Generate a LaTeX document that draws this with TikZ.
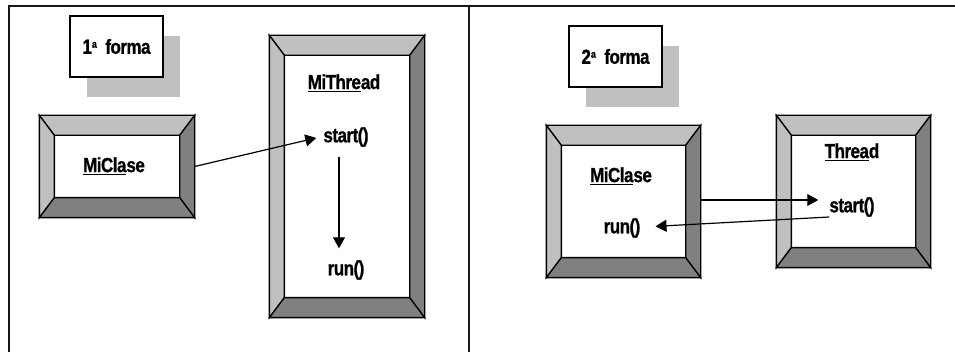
\documentclass[tikz,border=0pt]{standalone}
\usepackage{fontspec}
\setmainfont{Liberation Sans}
\newfontfamily\lblfont[FakeBold=1,LetterSpace=-3]{Liberation Sans Bold}
\usetikzlibrary{arrows.meta,shadows}
\definecolor{lite}{HTML}{C0C0C0}
\definecolor{dark}{HTML}{808080}
\newcommand\tx[1]{\scalebox{1}[1.2]{#1}}
\newcommand\supa{\raisebox{5pt}{\fontsize{9}{9}\selectfont a}}
\newcommand\bevelfill[1]{%
 \path (#1.north west) coordinate (o1) (#1.north east) coordinate (o2)
       (#1.south east) coordinate (o3) (#1.south west) coordinate (o4)
       ([xshift=15pt,yshift=-20pt]#1.north west) coordinate (i1)
       ([xshift=-15pt,yshift=-20pt]#1.north east) coordinate (i2)
       ([xshift=-15pt,yshift=20pt]#1.south east) coordinate (i3)
       ([xshift=15pt,yshift=20pt]#1.south west) coordinate (i4);
 \filldraw[bev,fill=lite] (o1)--(o2)--(i2)--(i1)--cycle;
 \filldraw[bev,fill=lite] (o1)--(i1)--(i4)--(o4)--cycle;
 \filldraw[bev,fill=dark] (o2)--(o3)--(i3)--(i2)--cycle;
 \filldraw[bev,fill=dark] (o4)--(o3)--(i3)--(i4)--cycle;
 \draw[bev] (o1) rectangle (o3);
}
\tikzset{
 bev/.style={draw=black,line width=1.3pt,line join=miter},
 bevbox/.style={draw=black,fill=white,line width=1.3pt,inner sep=0pt},
 lbl/.style={font=\fontsize{17}{17}\lblfont,inner sep=3pt},
 formabox/.style={draw=black,fill=white,line width=1.3pt,minimum width=93pt,minimum height=61pt,inner sep=0pt,
   font=\fontsize{17}{17}\lblfont,
   drop shadow={shadow xshift=17pt,shadow yshift=-20pt,fill=lite,opacity=1}},
 arr/.style={-{Triangle[length=11pt,width=12pt]},line width=1.2pt},
 frame/.style={line width=2pt,draw=black!90}
}
\begin{document}
\begin{tikzpicture}[x=1pt,y=-1pt]
\useasboundingbox (0,0) rectangle (955,352);
% frame
\draw[frame] (9,352) -- (9,6) -- (955,6);
\draw[frame] (469,6) -- (469,352);

% left panel
\node[formabox] (forma1) at (116.5,46.5) {\tx{1\supa\ \ forma}};
\node[bevbox,minimum width=154pt,minimum height=101pt] (mc1) at (117,166.5) {};
\bevelfill{mc1}
\node[bevbox,minimum width=154pt,minimum height=281pt] (mt1) at (347,176.5) {};
\bevelfill{mt1}
\node[lbl] (mc1t) at (114,166) {\tx{\underline{MiCla}se}};
\node[lbl] (mt1t) at (344,83) {\tx{\underline{MiThre}ad}};
\node[lbl] (start1) at (346,137) {\tx{start()}};
\node[lbl] (run1) at (346,270) {\tx{run()}};
\draw[arr,shorten >=4pt] (mc1.east) -- (start1.west);
\draw[arr,shorten <=7pt,shorten >=9pt] ([xshift=-7pt]start1.south) -- ([xshift=-7pt]run1.north);

% right panel
\node[formabox] (forma2) at (615.5,56.5) {\tx{2\supa\ \ forma}};
\node[bevbox,minimum width=153pt,minimum height=151pt] (mc2) at (623.5,201.5) {};
\bevelfill{mc2}
\node[bevbox,minimum width=153pt,minimum height=151pt] (th2) at (853.5,191.5) {};
\bevelfill{th2}
\node[lbl] (mc2t) at (621,176) {\tx{\underline{MiCla}se}};
\node[lbl] (th2t) at (852,152) {\tx{\underline{Threa}d}};
\node[lbl] (start2) at (852,207) {\tx{start()}};
\node[lbl] (run2) at (622,228) {\tx{run()}};
\draw[arr,shorten >=8pt] ([yshift=7pt]start2.west -| mc2.east) -- ([yshift=7pt]start2.west);
\draw[arr,shorten >=12pt] ([xshift=3pt,yshift=-10pt]start2.west) -- ([yshift=1pt]run2.east);
\end{tikzpicture}
\end{document}
